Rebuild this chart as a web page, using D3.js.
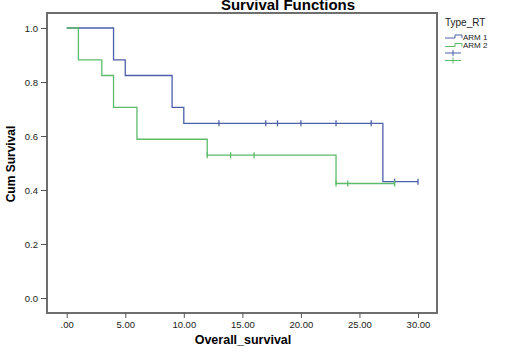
<!DOCTYPE html>
<html><head><meta charset="utf-8">
<script src="https://cdn.jsdelivr.net/npm/d3@7"></script>
<style>body{margin:0;background:#fff}svg{display:block;font-family:"Liberation Sans",Arial,sans-serif}</style>
</head><body><svg id="c" width="507" height="358"></svg>
<script>
// ARM 1 step function: [time, survival]
const arm1Steps = [[0,1.0],[4,0.882],[5,0.824],[9,0.706],[10,0.647],[27,0.431],[30,0.431]];
const arm1Censored = [[13,0.647],[17,0.647],[18,0.647],[20,0.647],[23,0.647],[26,0.647],[28,0.431],[30,0.431]];
// ARM 2
const arm2Steps = [[0,1.0],[1,0.882],[3,0.824],[4,0.706],[6,0.588],[12,0.529],[23,0.424],[28,0.424]];
const arm2Censored = [[12,0.529],[14,0.529],[16,0.529],[23,0.424],[24,0.424],[28,0.424]];
const xTicks = [0,5,10,15,20,25,30];
const yTicks = [0,0.2,0.4,0.6,0.8,1.0];
const legendLabels = ["ARM 1","ARM 2"];

const colors = ["#4d5fa8","#5cbc69"];
const svg = d3.select("#c");
const x = d3.scaleLinear().domain([0,30]).range([66.7,418]);
const y = d3.scaleLinear().domain([0,1]).range([298,28]);
const L=47,R=437,T=13,B=313;

// frame
svg.append("rect").attr("x",L).attr("y",T).attr("width",R-L).attr("height",B-T)
  .attr("fill","none").attr("stroke","#6e6e6e").attr("stroke-width",2);

// title
svg.append("text").attr("x",288).attr("y",10).attr("text-anchor","middle")
  .attr("font-size",15).attr("font-weight","bold").text("Survival Functions");

// x axis
const xAxis = d3.axisBottom(x).tickValues(xTicks).tickSize(5).tickPadding(3)
  .tickFormat(d => d===0 ? ".00" : d3.format(".2f")(d));
const gx = svg.append("g").attr("transform",`translate(0,${B})`).call(xAxis);
gx.select(".domain").remove();
gx.selectAll("line").attr("stroke","#555");
gx.selectAll("text").attr("font-size",9.5).attr("fill","#222").attr("font-family","Liberation Sans, Arial");

// y axis
const yAxis = d3.axisLeft(y).tickValues(yTicks).tickSize(6).tickPadding(3).tickFormat(d3.format(".1f"));
const gy = svg.append("g").attr("transform",`translate(${L},0)`).call(yAxis);
gy.select(".domain").remove();
gy.selectAll("line").attr("stroke","#555");
gy.selectAll("text").attr("font-size",9.5).attr("fill","#222").attr("font-family","Liberation Sans, Arial");

// axis titles
svg.append("text").attr("x",243).attr("y",344).attr("text-anchor","middle")
  .attr("font-size",12.5).attr("font-weight","bold").text("Overall_survival");
svg.append("text").attr("transform","translate(15,164) rotate(-90)").attr("text-anchor","middle")
  .attr("font-size",12).attr("font-weight","bold").text("Cum Survival");

// curves
const line = d3.line().x(d=>x(d[0])).y(d=>y(d[1])).curve(d3.curveStepAfter);
[[arm1Steps,arm1Censored],[arm2Steps,arm2Censored]].forEach(([steps,cens],i)=>{
  svg.append("path").attr("d",line(steps)).attr("fill","none")
    .attr("stroke",colors[i]).attr("stroke-width",1.3);
  svg.selectAll(null).data(cens).enter().append("line")
    .attr("x1",d=>x(d[0])).attr("x2",d=>x(d[0]))
    .attr("y1",d=>y(d[1])-3).attr("y2",d=>y(d[1])+3)
    .attr("stroke",colors[i]).attr("stroke-width",1.3);
});

// legend
const lg = svg.append("g");
lg.append("text").attr("x",445).attr("y",26).attr("font-size",10).attr("fill","#222").text("Type_RT");
legendLabels.forEach((lab,i)=>{
  const yy = 37 + i*8.5;
  lg.append("path").attr("d",`M445,${yy+1}H455V${yy-2}H462V${yy+1}`).attr("fill","none")
    .attr("stroke",colors[i]).attr("stroke-width",1);
  lg.append("text").attr("x",463).attr("y",yy+2.5).attr("font-size",8).attr("fill","#222").text(lab);
});
legendLabels.forEach((lab,i)=>{
  const yy = 53 + i*7.5;
  lg.append("line").attr("x1",445).attr("x2",461).attr("y1",yy).attr("y2",yy).attr("stroke",colors[i]).attr("stroke-width",1);
  lg.append("line").attr("x1",453).attr("x2",453).attr("y1",yy-3).attr("y2",yy+3).attr("stroke",colors[i]).attr("stroke-width",1);
});
</script></body></html>
